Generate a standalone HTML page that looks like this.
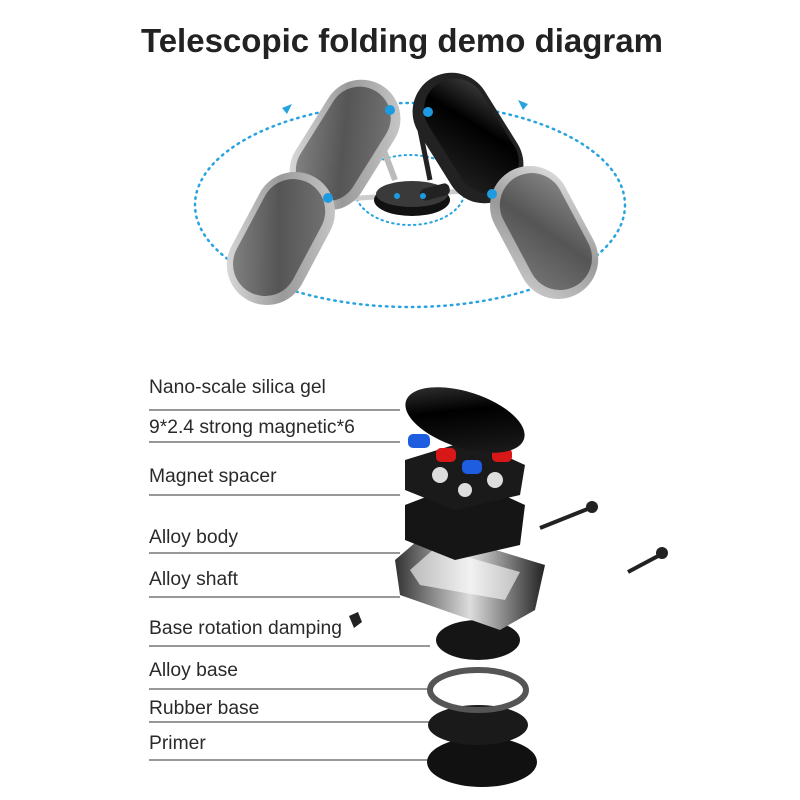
<!DOCTYPE html>
<html><head><meta charset="utf-8"><style>
html,body{margin:0;padding:0;background:#fff;}
svg{display:block}
text{font-family:"Liberation Sans",sans-serif;}
</style></head><body>
<svg width="800" height="800" viewBox="0 0 800 800" xmlns="http://www.w3.org/2000/svg">
<defs>
<linearGradient id="gs" x1="0" y1="0" x2="1" y2="1"><stop offset="0" stop-color="#e8e8e8"/><stop offset=".5" stop-color="#9a9a9a"/><stop offset="1" stop-color="#d0d0d0"/></linearGradient>
<linearGradient id="gf" x1="0" y1="0" x2="1" y2="1"><stop offset="0" stop-color="#8a8a8a"/><stop offset=".5" stop-color="#555"/><stop offset="1" stop-color="#777"/></linearGradient>
<linearGradient id="gb" x1="0" y1="0" x2="1" y2="1"><stop offset="0" stop-color="#444"/><stop offset=".4" stop-color="#000"/><stop offset="1" stop-color="#222"/></linearGradient>
<linearGradient id="gm" x1="0" y1="0" x2="1" y2="0"><stop offset="0" stop-color="#333"/><stop offset=".5" stop-color="#ddd"/><stop offset="1" stop-color="#222"/></linearGradient>
</defs>
<text x="402" y="52" text-anchor="middle" font-size="33" font-weight="bold" fill="#222">Telescopic folding demo diagram</text>

<ellipse cx="410" cy="205" rx="215" ry="102" fill="none" stroke="#29a3e0" stroke-width="2.5" stroke-dasharray="1.5 5" stroke-linecap="round"/>
<ellipse cx="410" cy="190" rx="55" ry="35" fill="none" stroke="#29a3e0" stroke-width="2" stroke-dasharray="1.5 4" stroke-linecap="round"/>
<polygon points="292,104 282,108 287,114" fill="#29a3e0"/>
<polygon points="518,100 528,104 523,110" fill="#29a3e0"/>

<line x1="380" y1="140" x2="395" y2="180" stroke="#bbb" stroke-width="6"/>
<line x1="420" y1="130" x2="430" y2="180" stroke="#222" stroke-width="5"/>
<line x1="330" y1="200" x2="480" y2="190" stroke="#ccc" stroke-width="5"/>

<ellipse cx="412" cy="200" rx="38" ry="16" fill="#111"/>
<ellipse cx="412" cy="194" rx="36" ry="13" fill="#3a3a3a"/>
<rect x="420" y="186" width="30" height="12" rx="5" fill="#222" transform="rotate(-15 435 192)"/>

<g transform="rotate(-58 345 145)"><rect x="275" y="106" width="140" height="78" rx="39" fill="url(#gs)"/><rect x="283" y="112" width="124" height="62" rx="31" fill="url(#gf)"/></g>
<g transform="rotate(-62 280 238)"><rect x="210" y="199" width="140" height="80" rx="40" fill="url(#gs)"/><rect x="218" y="205" width="124" height="64" rx="32" fill="url(#gf)"/></g>
<g transform="rotate(58 468 138)"><rect x="398" y="99" width="140" height="78" rx="39" fill="#222"/><rect x="406" y="103" width="124" height="62" rx="31" fill="url(#gb)"/></g>
<g transform="rotate(62 545 232)"><rect x="475" y="193" width="140" height="80" rx="40" fill="url(#gs)"/><rect x="483" y="199" width="124" height="64" rx="32" fill="url(#gf)"/></g>
<circle cx="390" cy="110" r="5" fill="#1e9be0"/><circle cx="428" cy="112" r="5" fill="#1e9be0"/>
<circle cx="328" cy="198" r="5" fill="#1e9be0"/><circle cx="492" cy="194" r="5" fill="#1e9be0"/>
<circle cx="397" cy="196" r="3" fill="#1e9be0"/><circle cx="423" cy="196" r="3" fill="#1e9be0"/>

<g font-size="19.3" fill="#2a2a2a">
<text x="149" y="393">Nano-scale silica gel</text>
<text x="149" y="433">9*2.4 strong magnetic*6</text>
<text x="149" y="482">Magnet spacer</text>
<text x="149" y="543">Alloy body</text>
<text x="149" y="585">Alloy shaft</text>
<text x="149" y="634">Base rotation damping</text>
<text x="149" y="676">Alloy base</text>
<text x="149" y="714">Rubber base</text>
<text x="149" y="749">Primer</text>
</g>
<g stroke="#777" stroke-width="1.5">
<line x1="149" y1="410" x2="400" y2="410"/>
<line x1="149" y1="442" x2="400" y2="442"/>
<line x1="149" y1="495" x2="400" y2="495"/>
<line x1="149" y1="553" x2="400" y2="553"/>
<line x1="149" y1="597" x2="400" y2="597"/>
<line x1="149" y1="646" x2="430" y2="646"/>
<line x1="149" y1="689" x2="430" y2="689"/>
<line x1="149" y1="722" x2="430" y2="722"/>
<line x1="149" y1="760" x2="430" y2="760"/>
</g>

<ellipse cx="482" cy="762" rx="55" ry="25" fill="#111"/>
<ellipse cx="478" cy="725" rx="50" ry="20" fill="#1a1a1a"/>
<ellipse cx="478" cy="690" rx="48" ry="20" fill="none" stroke="#555" stroke-width="6"/>
<ellipse cx="478" cy="640" rx="42" ry="20" fill="#151515"/>
<polygon points="395,560 430,530 545,565 535,610 500,630 400,595" fill="url(#gm)"/>
<polygon points="410,570 435,548 520,572 505,600 420,585" fill="#fff" opacity=".6"/>
<polygon points="405,505 470,480 525,505 520,545 455,560 405,540" fill="#151515"/>
<polygon points="405,460 470,440 525,465 520,495 455,510 405,490" fill="#1a1a1a"/>
<circle cx="440" cy="475" r="8" fill="#ddd"/><circle cx="495" cy="480" r="8" fill="#ddd"/><circle cx="465" cy="490" r="7" fill="#ddd"/>
<rect x="408" y="434" width="22" height="14" rx="5" fill="#1e5de0"/>
<rect x="436" y="448" width="20" height="14" rx="5" fill="#d81818"/>
<rect x="462" y="460" width="20" height="14" rx="5" fill="#1e5de0"/>
<rect x="492" y="448" width="20" height="14" rx="5" fill="#d81818"/>
<ellipse cx="465" cy="420" rx="62" ry="28" fill="url(#gb)" transform="rotate(18 465 420)"/>
<line x1="540" y1="528" x2="590" y2="508" stroke="#222" stroke-width="4"/>
<circle cx="592" cy="507" r="6" fill="#222"/>
<line x1="628" y1="572" x2="660" y2="555" stroke="#222" stroke-width="4"/>
<circle cx="662" cy="553" r="6" fill="#222"/>
<polygon points="349,616 358,612 362,622 354,628" fill="#222"/>
</svg>
</body></html>
